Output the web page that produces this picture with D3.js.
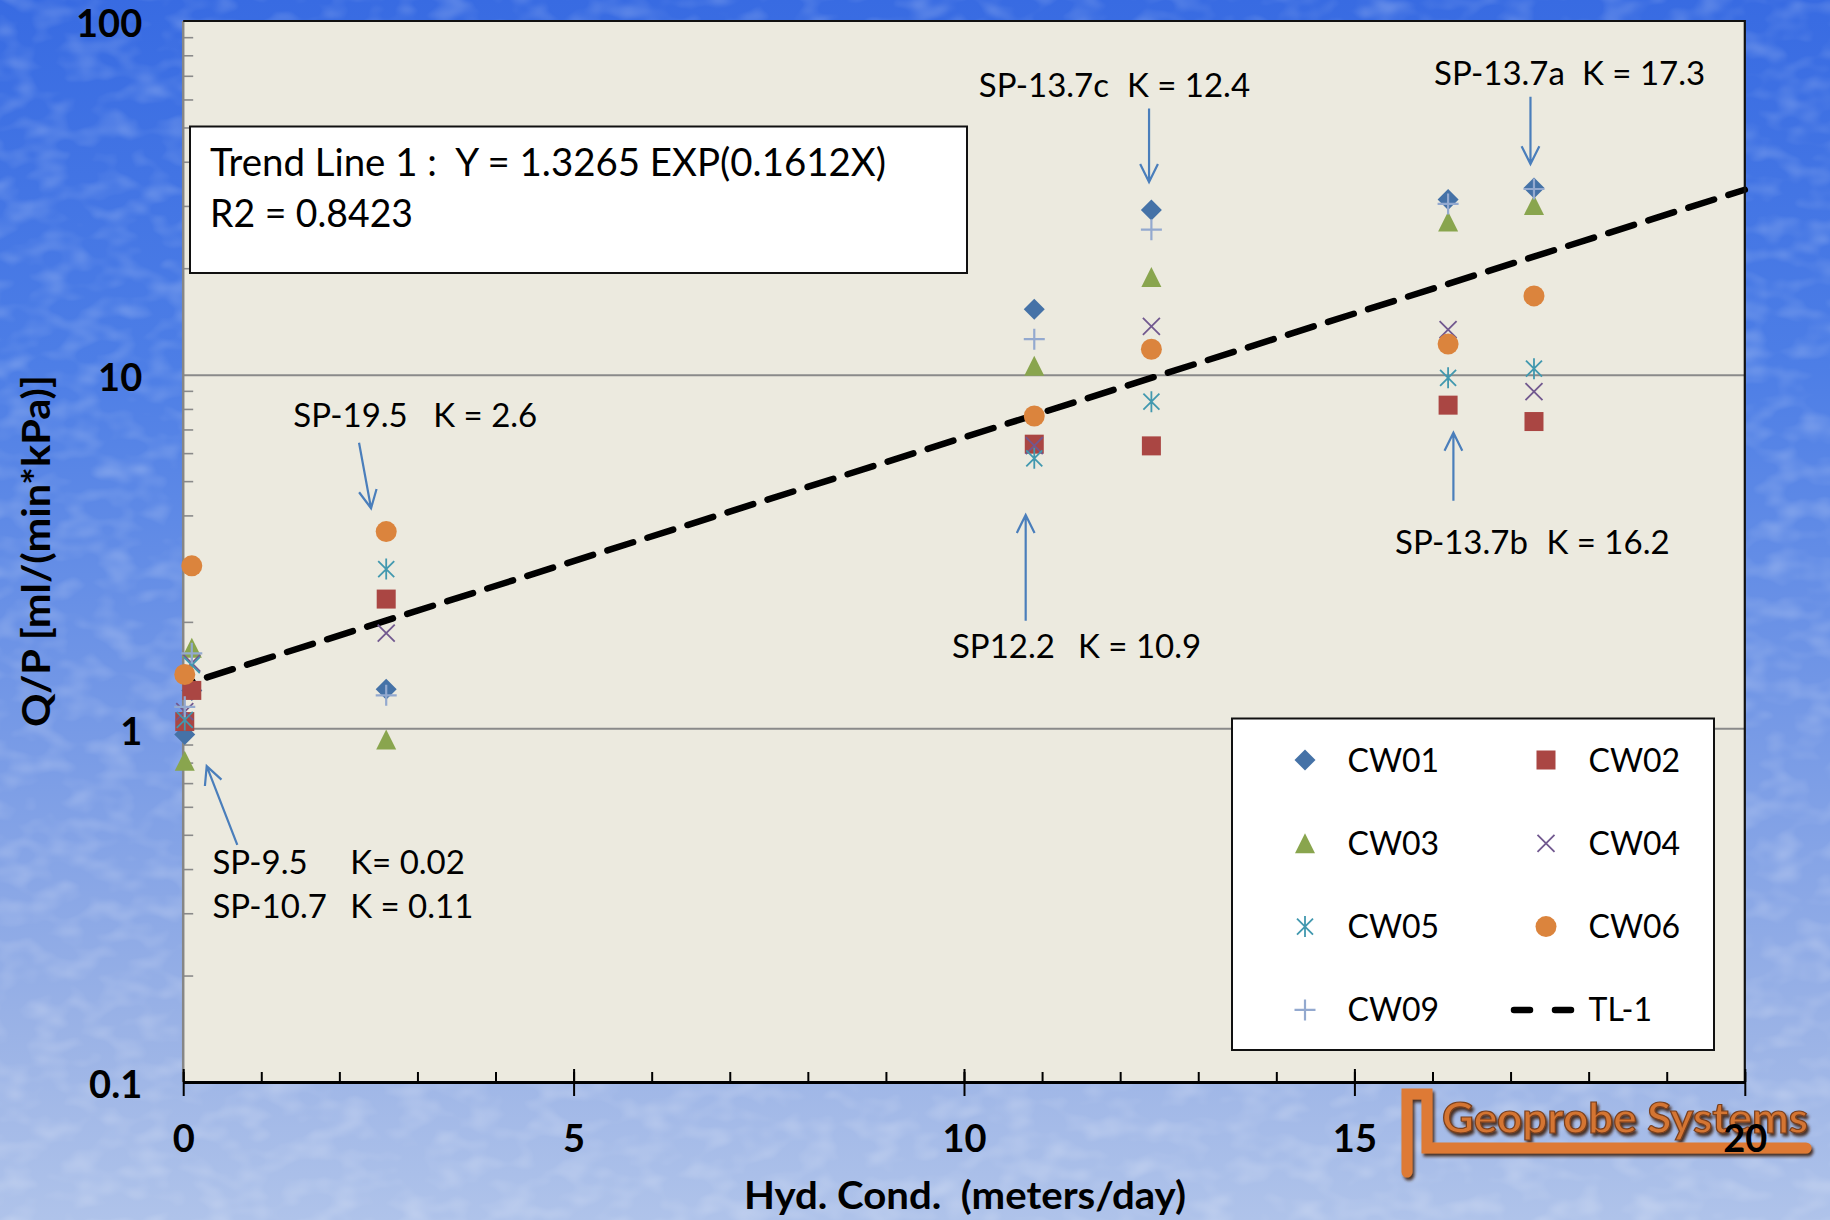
<!DOCTYPE html>
<html>
<head>
<meta charset="utf-8">
<script src="https://cdn.jsdelivr.net/npm/d3@7"></script>
<style>
  html, body { margin: 0; padding: 0; overflow: hidden; background: #6d8fe3; }
  svg { display: block; }
  text { font-family: Lato, "Open Sans", "DejaVu Sans", sans-serif; white-space: pre; }
</style>
</head>
<body>
<svg id="chart" width="1830" height="1220"></svg>
<script>
// ---- data -------------------------------------------------------------
// hydraulic conductivity of each probe location (meters/day)
const hydCond = [0.02, 0.11, 2.6, 10.9, 12.4, 16.2, 17.3];

// Q/P [ml/(min*kPa)] measured at each well, one value per location
const cw01 = [0.96, 1.28, 1.29, 15.3, 29.2, 31.3, 33.7];
const cw02 = [1.045, 1.28, 2.32, 6.36, 6.29, 8.2, 7.37];
const cw03 = [0.81, 1.69, 0.93, 10.6, 18.9, 27.1, 30.2];
const cw04 = [1.115, 1.53, 1.86, 6.3, 13.7, 13.4, 8.95];
const cw05 = [1.056, 1.51, 2.82, 5.8, 8.39, 9.8, 10.4];
const cw06 = [1.42, 2.88, 3.6, 7.64, 11.8, 12.2, 16.7];
const cw09 = [1.15, 1.63, 1.24, 12.6, 25.7, 30.4, 33.5];

const seriesNames = ["CW01", "CW02", "CW03", "CW04", "CW05", "CW06", "CW09"];
const seriesValues = [cw01, cw02, cw03, cw04, cw05, cw06, cw09];

// exponential trend line  Y = A * exp(B * X)
const trendName = "TL-1";
const trendA = 1.3265;
const trendB = 0.1612;
const trendR2 = 0.8423;
const trendXRange = [0.11, 20];

const xTickValues = [0, 5, 10, 15, 20];
const yTickValues = [0.1, 1, 10, 100];
const yTickLabels = ["0.1", "1", "10", "100"];

const xTitle = "Hyd. Cond.  (meters/day)";
const yTitle = "Q/P [ml/(min*kPa)]";

// site call-outs, placed in axis units: [K, Q/P]
const callouts = [
  { site: "SP-13.7c", k: "K = 12.4", label: [10.19, 60.98], kx: 12.087, from: [12.37, 56.6],  to: [12.37, 35.06] },
  { site: "SP-13.7a", k: "K = 17.3", label: [16.02, 65.9],  kx: 17.915, from: [17.255, 61.1], to: [17.255, 39.4] },
  { site: "SP-19.5",  k: "K = 2.6",  label: [1.41, 7.13],   kx: 3.203,  from: [2.252, 6.42],  to: [2.406, 4.19] },
  { site: "SP12.2",   k: "K = 10.9", label: [9.846, 1.578], kx: 11.46,  from: [10.79, 2.015], to: [10.79, 4.01] },
  { site: "SP-13.7b", k: "K = 16.2", label: [15.52, 3.11],  kx: 17.46,  from: [16.268, 4.40], to: [16.268, 6.85] },
  { site: "SP-9.5",   k: "K= 0.02",  label: [0.374, 0.3875], kx: 2.139, from: [0.693, 0.468], to: [0.301, 0.782] },
  { site: "SP-10.7",  k: "K = 0.11", label: [0.374, 0.2903], kx: 2.139 }
];

// ---- styling ----------------------------------------------------------
const seriesColors  = ["#4572A7", "#AA4643", "#89A54E", "#71588F", "#4198AF", "#DB843D", "#93A9CF"];
const seriesSymbols = ["diamond", "square", "triangle", "cross", "asterisk", "circle", "plus"];

const W = 1830, H = 1220;
const plot = { left: 183.2, right: 1744.8, top: 21, bottom: 1082 };

const svg = d3.select("#chart");
const x = d3.scaleLinear().domain([0, 20]).range([plot.left, plot.right]);
const y = d3.scaleLog().domain([0.1, 100]).range([plot.bottom, plot.top]);

// ---- defs -------------------------------------------------------------
const defs = svg.append("defs");
const bg = defs.append("linearGradient").attr("id", "bgGrad")
  .attr("x1", 0).attr("y1", 0).attr("x2", 0).attr("y2", 1);
[[0, "#386be2"], [0.3, "#4d7ee6"], [0.6, "#779ae6"], [0.85, "#9bb3e6"], [1, "#afc3ea"]]
  .forEach(([o, c]) => bg.append("stop").attr("offset", o).attr("stop-color", c));

const speckle = defs.append("filter").attr("id", "speckle")
  .attr("x", 0).attr("y", 0).attr("width", 1).attr("height", 1);
speckle.append("feTurbulence").attr("type", "fractalNoise")
  .attr("baseFrequency", "0.03 0.05").attr("numOctaves", 2).attr("seed", 7).attr("result", "n");
speckle.append("feColorMatrix").attr("in", "n").attr("type", "matrix")
  .attr("values", "0 0 0 0 1  0 0 0 0 1  0 0 0 0 1  0 0 0 0.45 -0.2");

const logoShadow = defs.append("filter").attr("id", "logoShadow")
  .attr("x", "-10%").attr("y", "-30%").attr("width", "130%").attr("height", "180%");
logoShadow.append("feGaussianBlur").attr("in", "SourceAlpha").attr("stdDeviation", 1.8).attr("result", "b");
logoShadow.append("feOffset").attr("in", "b").attr("dx", 2).attr("dy", 3).attr("result", "o");
logoShadow.append("feFlood").attr("flood-color", "#3e2212").attr("flood-opacity", 0.9);
logoShadow.append("feComposite").attr("in2", "o").attr("operator", "in").attr("result", "s");
const lm = logoShadow.append("feMerge");
lm.append("feMergeNode").attr("in", "s");
lm.append("feMergeNode").attr("in", "SourceGraphic");

// ---- background -------------------------------------------------------
svg.append("rect").attr("width", W).attr("height", H).attr("fill", "url(#bgGrad)");
svg.append("rect").attr("width", W).attr("height", H).attr("filter", "url(#speckle)");

// plot area
svg.append("rect")
  .attr("x", plot.left).attr("y", plot.top)
  .attr("width", plot.right - plot.left).attr("height", plot.bottom - plot.top)
  .attr("fill", "#ECEADF");

// horizontal gridlines at the major decades inside the plot
svg.append("g").attr("transform", `translate(${plot.left},0)`)
  .call(d3.axisLeft(y).tickValues([1, 10]).tickSize(-(plot.right - plot.left)).tickFormat(""))
  .call(g => g.select(".domain").remove())
  .call(g => g.selectAll("line").attr("stroke", "#8a8a8a").attr("stroke-width", 2));

// y minor ticks (2..9 of every decade), pointing into the plot
const yMinor = [0.1, 1, 10].flatMap(d => d3.range(2, 10).map(m => m * d));
svg.append("g").attr("transform", `translate(${plot.left},0)`)
  .call(d3.axisLeft(y).tickValues(yMinor).tickSize(-10).tickFormat(""))
  .call(g => g.select(".domain").remove())
  .call(g => g.selectAll("line").attr("stroke", "#8a8a8a").attr("stroke-width", 1.6));

// y axis line
svg.append("line")
  .attr("x1", plot.left).attr("x2", plot.left).attr("y1", plot.top).attr("y2", plot.bottom)
  .attr("stroke", "#868686").attr("stroke-width", 2.5);

// ---- trend equation box ----------------------------------------------
const eqBox = svg.append("g");
eqBox.append("rect").attr("x", 190).attr("y", 126.5).attr("width", 777).attr("height", 146.5)
  .attr("fill", "#ffffff").attr("stroke", "#111").attr("stroke-width", 2);
eqBox.append("text").attr("x", 210).attr("y", 176).attr("font-size", 38.5).attr("fill", "#000")
  .attr("textLength", 676).attr("lengthAdjust", "spacingAndGlyphs")
  .text(`Trend Line 1 :  Y = ${trendA} EXP(${trendB}X)`);
eqBox.append("text").attr("x", 210).attr("y", 227).attr("font-size", 38.5).attr("fill", "#000")
  .attr("textLength", 203).attr("lengthAdjust", "spacingAndGlyphs")
  .text(`R2 = ${trendR2}`);

// ---- trend line -------------------------------------------------------
const trendPts = trendXRange.map(k => [k, trendA * Math.exp(trendB * k)]);
svg.append("path")
  .datum(trendPts)
  .attr("d", d3.line().x(d => x(d[0])).y(d => y(d[1])))
  .attr("fill", "none").attr("stroke", "#000").attr("stroke-width", 6.5)
  .attr("stroke-linecap", "round").attr("stroke-dasharray", "27 15").attr("stroke-dashoffset", -16);

// ---- markers ----------------------------------------------------------
function drawSymbol(g, type, color) {
  switch (type) {
    case "diamond":
      g.append("path").attr("d", "M0,-10.5L10.5,0L0,10.5L-10.5,0Z").attr("fill", color); break;
    case "square":
      g.append("rect").attr("x", -9.5).attr("y", -9.5).attr("width", 19).attr("height", 19).attr("fill", color); break;
    case "triangle":
      g.append("path").attr("d", "M0,-10L10,10L-10,10Z").attr("fill", color); break;
    case "cross":
      g.append("path").attr("d", "M-8.5,-8.5L8.5,8.5M8.5,-8.5L-8.5,8.5")
        .attr("stroke", color).attr("stroke-width", 1.8).attr("fill", "none"); break;
    case "asterisk":
      g.append("path").attr("d", "M-8,-8L8,8M8,-8L-8,8M0,-10.5V10.5")
        .attr("stroke", color).attr("stroke-width", 1.8).attr("fill", "none"); break;
    case "circle":
      g.append("circle").attr("r", 10.5).attr("fill", color); break;
    case "plus":
      g.append("path").attr("d", "M-10.5,0H10.5M0,-10.5V10.5")
        .attr("stroke", color).attr("stroke-width", 2.2).attr("fill", "none"); break;
  }
}

const markers = svg.append("g");
seriesValues.forEach((vals, i) => {
  const sg = markers.append("g").attr("class", "series-" + seriesNames[i]);
  sg.selectAll("g.pt")
    .data(vals.map((v, j) => ({ k: hydCond[j], v })))
    .join("g").attr("class", "pt")
    .attr("transform", d => `translate(${x(d.k)},${y(d.v)})`)
    .each(function () { drawSymbol(d3.select(this), seriesSymbols[i], seriesColors[i]); });
});

// ---- call-outs --------------------------------------------------------
const arrowColor = "#4A7EBB";
const notes = svg.append("g");
callouts.forEach(c => {
  notes.append("text").attr("x", x(c.label[0])).attr("y", y(c.label[1]))
    .attr("font-size", 33).attr("fill", "#000").text(c.site);
  notes.append("text").attr("x", x(c.kx)).attr("y", y(c.label[1]))
    .attr("font-size", 33).attr("fill", "#000").text(c.k);
  if (c.from) {
    const x1 = x(c.from[0]), y1 = y(c.from[1]);
    const x2 = x(c.to[0]),   y2 = y(c.to[1]);
    const ang = Math.atan2(y2 - y1, x2 - x1);
    const len = 20, spread = 0.46;
    const a1 = [x2 - len * Math.cos(ang - spread), y2 - len * Math.sin(ang - spread)];
    const a2 = [x2 - len * Math.cos(ang + spread), y2 - len * Math.sin(ang + spread)];
    notes.append("path")
      .attr("d", `M${x1},${y1}L${x2},${y2}M${a1[0]},${a1[1]}L${x2},${y2}L${a2[0]},${a2[1]}`)
      .attr("fill", "none").attr("stroke", arrowColor).attr("stroke-width", 2.2)
      .attr("stroke-linejoin", "miter");
  }
});

// ---- legend -----------------------------------------------------------
const legend = svg.append("g");
legend.append("rect").attr("x", 1232).attr("y", 718.5).attr("width", 482).attr("height", 331.5)
  .attr("fill", "#ffffff").attr("stroke", "#111").attr("stroke-width", 2);
const legendItems = seriesNames.map((n, i) => ({ name: n, symbol: seriesSymbols[i], color: seriesColors[i] }))
  .concat([{ name: trendName, symbol: "dash", color: "#000" }]);
legendItems.forEach((it, i) => {
  const col = i % 2, row = Math.floor(i / 2);
  const cy = 760 + row * 83.3;
  const mx = col === 0 ? 1305 : 1546;
  const tx = col === 0 ? 1347.5 : 1588.5;
  const g = legend.append("g").attr("transform", `translate(${mx},${cy})`);
  if (it.symbol === "dash") {
    g.append("path").attr("d", "M-32,0H26").attr("stroke", "#000").attr("stroke-width", 6.5)
      .attr("stroke-linecap", "round").attr("stroke-dasharray", "16 25");
  } else {
    drawSymbol(g, it.symbol, it.color);
  }
  legend.append("text").attr("x", tx).attr("y", cy + 11.5).attr("font-size", 32).attr("fill", "#000").text(it.name);
});

// plot border (top and right)
svg.append("path")
  .attr("d", `M${plot.left},${plot.top}H${plot.right}V${plot.bottom}`)
  .attr("fill", "none").attr("stroke", "#111").attr("stroke-width", 2.2);

// ---- company logo -----------------------------------------------------
const logo = svg.append("g").attr("filter", "url(#logoShadow)");
logo.append("path")
  .attr("d", "M1407,1172V1094H1427V1148H1806")
  .attr("fill", "none").attr("stroke", "#DE7A34").attr("stroke-width", 11)
  .attr("stroke-linejoin", "miter").attr("stroke-linecap", "round");
logo.append("text").attr("x", 1442).attr("y", 1133)
  .attr("font-family", "'DejaVu Sans', sans-serif").attr("font-weight", 700).attr("font-size", 42)
  .attr("textLength", 366).attr("lengthAdjust", "spacingAndGlyphs")
  .attr("fill", "#D47433").attr("stroke", "#7a3f1c").attr("stroke-width", 1.2)
  .text("Geoprobe Systems");

// ---- x axis -----------------------------------------------------------
const xAxisG = svg.append("g").attr("transform", `translate(0,${plot.bottom})`);
xAxisG.append("g")
  .call(d3.axisBottom(x).tickValues(d3.range(0, 21)).tickSize(-10).tickFormat("").tickSizeOuter(0))
  .call(g => g.select(".domain").remove())
  .call(g => g.selectAll("line").attr("stroke", "#000").attr("stroke-width", 2));
xAxisG.append("g")
  .call(d3.axisBottom(x).tickValues(xTickValues).tickSize(-13).tickFormat("").tickSizeOuter(0))
  .call(g => g.select(".domain").remove())
  .call(g => g.selectAll("line").attr("stroke", "#000").attr("stroke-width", 2));
xAxisG.append("g")
  .call(d3.axisBottom(x).tickValues(xTickValues).tickSize(14).tickPadding(29).tickSizeOuter(0).tickFormat(d3.format("d")))
  .call(g => g.select(".domain").attr("stroke", "#000").attr("stroke-width", 3.2))
  .call(g => g.selectAll("line").attr("stroke", "#000").attr("stroke-width", 2))
  .call(g => g.selectAll("text").attr("font-family", "Lato, sans-serif").attr("font-weight", 700)
    .attr("font-size", 38).attr("fill", "#000"));

// ---- y axis labels ----------------------------------------------------
svg.append("g").attr("transform", `translate(${plot.left},0)`)
  .call(d3.axisLeft(y).tickValues(yTickValues).tickSize(0).tickPadding(41)
    .tickFormat((d, i) => yTickLabels[i]))
  .call(g => g.select(".domain").remove())
  .call(g => g.selectAll("text").attr("font-family", "Lato, sans-serif").attr("font-weight", 700)
    .attr("font-size", 38).attr("fill", "#000").attr("dy", "0.42em"));

// ---- axis titles ------------------------------------------------------
svg.append("text")
  .attr("x", 965).attr("y", 1209).attr("text-anchor", "middle")
  .attr("font-weight", 700).attr("font-size", 38).attr("fill", "#000")
  .attr("textLength", 442).attr("lengthAdjust", "spacingAndGlyphs")
  .text(xTitle);
svg.append("text")
  .attr("transform", "translate(50,551) rotate(-90)").attr("text-anchor", "middle")
  .attr("font-weight", 700).attr("font-size", 39).attr("fill", "#000")
  .attr("textLength", 352).attr("lengthAdjust", "spacingAndGlyphs")
  .text(yTitle);
</script>
</body>
</html>
